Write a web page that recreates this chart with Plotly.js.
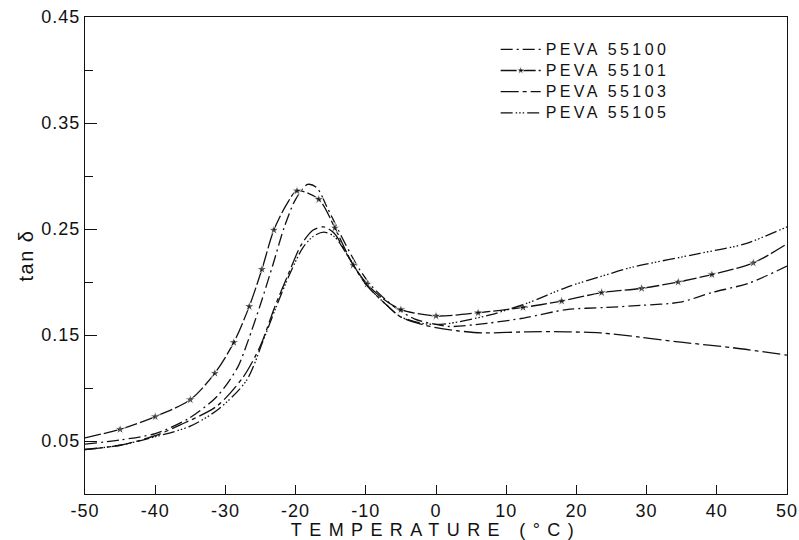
<!DOCTYPE html>
<html>
<head>
<meta charset="utf-8">
<script src="https://cdn.plot.ly/plotly-3.0.1.min.js"></script>
<style>
body{margin:0;background:#fff}
#chart{width:799px;height:540px}
#chart .legendtext{letter-spacing:3.4px; font-size:16px !important}
#chart .legend .scrollbox, #chart .legend g{clip-path:none !important}
#chart .xtitle{letter-spacing:7.4px}
#chart .ytitle{letter-spacing:1.5px}
#chart .xtick text,#chart .ytick text{letter-spacing:1px}
</style>
</head>
<body>
<div id="chart"></div>
<script>
// PEVA 55100
const t55100 = [-50,-45,-40,-35.3,-31.2,-28.3,-26.8,-25,-23.2,-21.6,-20,-18.3,-17,-15.4,-13,-11,-9,-6,-3,0,2,7.2,12.5,18.6,24.3,29.3,34.8,39.3,44.6,50];
const v55100 = [0.047,0.051,0.057,0.071,0.092,0.119,0.144,0.179,0.217,0.252,0.278,0.292,0.289,0.269,0.237,0.213,0.195,0.177,0.165,0.160,0.158,0.161,0.166,0.174,0.176,0.178,0.181,0.190,0.199,0.215];
// PEVA 55101 (stars)
const t55101 = [-50,-45,-40,-35,-31.5,-28.8,-26.6,-24.8,-23.1,-21.3,-19.8,-16.7,-14.4,-11.8,-9.8,-7.5,-5,0,6,12.4,17.9,23.6,29.3,34.5,39.3,45.2,50];
const v55101 = [0.053,0.061,0.073,0.089,0.114,0.143,0.177,0.212,0.249,0.273,0.286,0.278,0.251,0.216,0.198,0.184,0.174,0.168,0.171,0.176,0.182,0.190,0.194,0.200,0.207,0.218,0.236];
const star55101 = [0,1,1,1,1,1,1,1,1,0,1,1,1,1,1,0,1,1,1,1,1,1,1,1,1,1,0];
// PEVA 55103
const t55103 = [-50,-45,-40,-36.5,-31.2,-27.5,-25,-23,-21,-19.2,-17.5,-16,-14.5,-12.5,-10,-7,-5,-2,0,3,6.7,13,18.6,23.4,29,35.2,42.3,50];
const v55103 = [0.042,0.046,0.055,0.065,0.083,0.110,0.140,0.176,0.208,0.235,0.249,0.252,0.246,0.224,0.198,0.178,0.167,0.160,0.157,0.154,0.152,0.153,0.153,0.152,0.148,0.143,0.138,0.131];
// PEVA 55105
const t55105 = [-50,-45,-40,-35,-31,-27,-24.6,-22.8,-20.8,-19,-17.5,-16,-14.5,-12.5,-10,-7,-5,-2,0,2,7.7,13,18.6,23.4,28,37.6,44,50];
const v55105 = [0.042,0.046,0.054,0.064,0.080,0.107,0.145,0.176,0.208,0.232,0.243,0.247,0.243,0.224,0.198,0.178,0.167,0.161,0.160,0.161,0.169,0.180,0.195,0.205,0.214,0.227,0.236,0.252];

const xTicks = [-50,-40,-30,-20,-10,0,10,20,30,40,50];
const xTickText = ['-50','-40','-30','-20','-10','0','10','20','30','40','50'];
const yTicks = [0.05,0.15,0.25,0.35,0.45];
const yTickText = ['0.05','0.15','0.25','0.35','0.45'];

const FONT = 'Liberation Sans, DejaVu Sans, sans-serif';
const lineBase = {color:'#111', width:1.3, shape:'spline', smoothing:0.8};

const traces = [
  {x:t55100, y:v55100, name:'PEVA 55100', mode:'lines',
   line:Object.assign({}, lineBase, {dash:'12px,4px,2px,4px'})},
  {x:t55101, y:v55101, name:'PEVA 55101', mode:'lines+markers',
   line:Object.assign({}, lineBase, {dash:'16px,3px'}),
   marker:{symbol:'star', color:'#111', size:star55101.map(s=>s?8:0)}},
  {x:t55103, y:v55103, name:'PEVA 55103', mode:'lines',
   line:Object.assign({}, lineBase, {dash:'18px,4px,4px,4px'})},
  {x:t55105, y:v55105, name:'PEVA 55105', mode:'lines',
   line:Object.assign({}, lineBase, {dash:'12px,3px,1.5px,2px,1.5px,2px,1.5px,3px'})}
];

const layout = {
  width:799, height:540,
  margin:{l:85, r:12, t:17, b:46},
  paper_bgcolor:'#fff', plot_bgcolor:'#fff',
  font:{family:FONT, color:'#111', size:16},
  showlegend:true,
  legend:{x:0.585, y:0.965, xanchor:'left', yanchor:'top', bgcolor:'rgba(0,0,0,0)',
          font:{family:FONT, size:14, color:'#111'}, tracegroupgap:0, itemwidth:40},
  xaxis:{range:[-50,50], tickvals:xTicks, ticktext:xTickText, ticks:'inside', ticklen:9,
         tickcolor:'#111', tickwidth:1, showline:true, linecolor:'#111', linewidth:1.2,
         mirror:true, showgrid:false, zeroline:false,
         tickfont:{family:FONT, size:18, color:'#111'},
         title:{text:'TEMPERATURE (°C)', font:{family:FONT, size:18, color:'#111'}, standoff:4}},
  yaxis:{range:[0,0.45], tickvals:yTicks, ticktext:yTickText, ticks:'inside', ticklen:12,
         tickcolor:'#111', tickwidth:1, showline:true, linecolor:'#111', linewidth:1.2,
         mirror:true, showgrid:false, zeroline:false,
         minor:{tick0:0, dtick:0.1, ticks:'inside', ticklen:8, tickcolor:'#111', showgrid:false},
         tickfont:{family:FONT, size:18, color:'#111'},
         title:{text:'tan δ', font:{family:FONT, size:20, color:'#111'}, standoff:6}}
};

Plotly.newPlot('chart', traces, layout, {displayModeBar:false, staticPlot:true});
</script>
</body>
</html>
